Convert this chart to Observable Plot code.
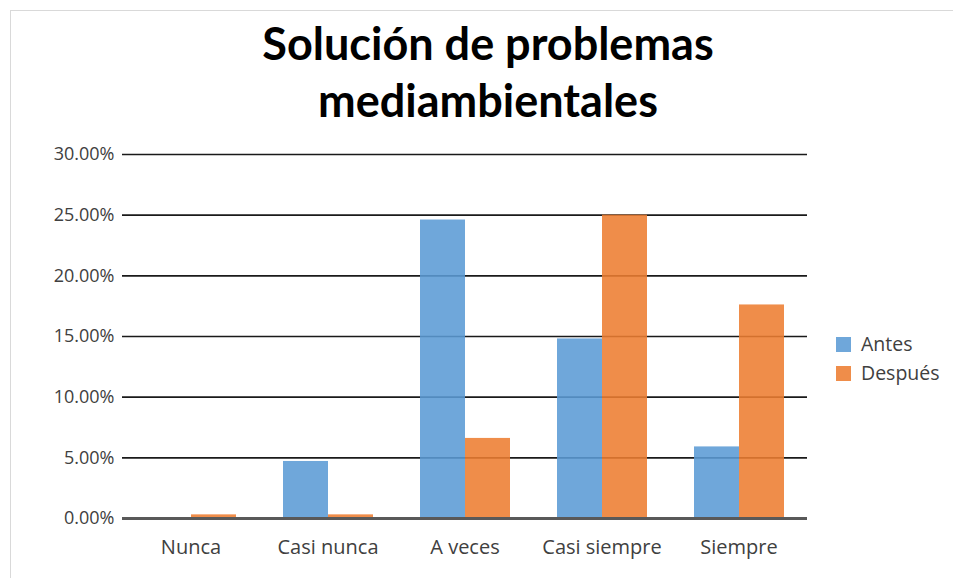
<!DOCTYPE html>
<html><head><meta charset="utf-8">
<script src="https://cdn.jsdelivr.net/npm/d3@7"></script>
<script src="https://cdn.jsdelivr.net/npm/@observablehq/plot@0.6"></script>
<style>
body{margin:0;background:#fff;}
#wrap{position:relative;width:953px;height:578px;overflow:hidden;font-family:"Open Sans",sans-serif;background:#fff;}
#frame{position:absolute;left:10px;top:10px;width:980px;height:620px;border:1px solid #d9d9d9;}
#title{position:absolute;left:0;top:15px;width:976px;text-align:center;font-family:Lato,sans-serif;font-weight:bold;font-size:45px;line-height:57px;color:#000;}
#chart{position:absolute;left:0;top:135px;}
#legend{position:absolute;left:836px;top:329px;font-size:19.5px;color:#404040;line-height:29px;}
#legend .sw{display:inline-block;width:15px;height:15px;margin-right:10px;vertical-align:-1px;}
</style></head>
<body>
<div id="wrap">
<div id="frame"></div>
<div id="title">Solución de problemas<br>mediambientales</div>
<div id="chart"></div>
<div id="legend"></div>
</div>
<script>
const categories = ["Nunca", "Casi nunca", "A veces", "Casi siempre", "Siempre"];
const series = ["Antes", "Después"];
const antes = [0, 4.7, 24.6, 14.8, 5.9];
const despues = [0.3, 0.3, 6.6, 25.0, 17.6];
const yTicks = [0, 5, 10, 15, 20, 25, 30];
const colors = ["#5B9BD5", "#ED7D31"];

const data = [];
categories.forEach((c, i) => {
  data.push({cat: c, serie: "Antes", value: antes[i]});
  data.push({cat: c, serie: "Después", value: despues[i]});
});

const plot = Plot.plot({
  width: 953,
  height: 443,
  marginTop: 19,
  marginBottom: 60,
  marginLeft: 120,
  marginRight: 145,
  style: {fontFamily: "'Open Sans', sans-serif", fontSize: "18px", color: "#404040", background: "transparent"},
  fx: {domain: categories, padding: 0, label: null},
  x: {domain: series, paddingInner: 0, paddingOuter: 0.52, axis: null},
  y: {domain: [0, 30], ticks: yTicks, tickSize: 0, tickPadding: 8, label: null, tickFormat: d => d.toFixed(2) + "%"},
  color: {domain: series, range: colors},
  marks: [
    Plot.ruleY(yTicks.filter(d => d > 0), {stroke: "#1a1a1a", strokeWidth: 1.6}),
    Plot.barY(data, {fx: "cat", x: "serie", y: "value", fill: "serie", fillOpacity: 0.88}),
    Plot.ruleY([0], {stroke: "#595959", strokeWidth: 3}),
    Plot.barY(data.filter(d => d.value === 0), {fx: "cat", x: "serie", y1: 0, y2: 0, stroke: "#a0a0a0", strokeWidth: 2}),
    Plot.axisFx({anchor: "bottom", tickSize: 0, tickPadding: 21, fontSize: 20, label: null})
  ]
});
document.getElementById("chart").appendChild(plot);

const legend = document.getElementById("legend");
series.forEach((s, i) => {
  const row = document.createElement("div");
  row.innerHTML = `<span class="sw" style="background:${colors[i]};opacity:0.88"></span>${s}`;
  legend.appendChild(row);
});
</script>
</body></html>
